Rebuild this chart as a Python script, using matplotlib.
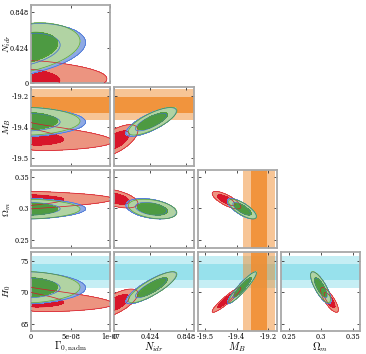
import math
import numpy as np
import matplotlib
matplotlib.use("Agg")
import matplotlib.pyplot as plt

plt.rcParams['mathtext.fontset'] = 'cm'
plt.rcParams['font.family'] = ['DejaVu Serif']

# parameters: Gamma_0,nadm (through u), N_idr, M_B, Omega_m, H0
param_labels = [r'$\Gamma_{0,\mathrm{nadm}}$', r'$N_{idr}$', r'$M_B$', r'$\Omega_m$', r'$H_0$']
axis_limits = [(0.0, 1e-7), (0.0, 0.94), (-19.535, -19.16), (0.237, 0.361), (63.9, 76.3)]
tick_values = [[0.0, 5e-8, 1e-7], [0.0, 0.424, 0.848], [-19.5, -19.35, -19.2],
               [0.25, 0.3, 0.35], [65, 70, 75]]
tick_labels = [['0', '5e-08', '1e-07'], ['0', '0.424', '0.848'], ['-19.5', '-19.4', '-19.2'],
               ['0.25', '0.3', '0.35'], ['65', '70', '75']]
bounded = [0, 1]   # Gamma and N_idr are >= 0

# external priors (mean, sigma)
mb_prior = (-19.244, 0.037)
h0_prior = (73.2, 1.3)

# chains: gaussian in (u, N, M, Om, H), Gamma = scale * u**power
red_mean = [0.0, 0.0, -19.41, 0.3155, 68.4]
red_sigma = [1.0, 0.11, 0.032, 0.0062, 0.95]
red_corr = [[1.0, 0.2, -0.2, 0.05, -0.2],
            [0.2, 1.0, 0.60, -0.50, 0.65],
            [-0.2, 0.60, 1.0, -0.80, 0.95],
            [0.05, -0.50, -0.80, 1.0, -0.82],
            [-0.2, 0.65, 0.95, -0.82, 1.0]]
red_gamma = (0.16e-7, 2.0)

blue_mean = [0.0, 0.41, -19.326, 0.2995, 70.7]
blue_sigma = [1.0, 0.125, 0.028, 0.0066, 1.03]
blue_corr = [[1.0, 0.25, 0.0, 0.0, 0.0],
             [0.25, 1.0, 0.75, -0.35, 0.82],
             [0.0, 0.75, 1.0, -0.75, 0.93],
             [0.0, -0.35, -0.75, 1.0, -0.78],
             [0.0, 0.82, 0.93, -0.78, 1.0]]
blue_gamma = (0.215e-7, 1.3)

green_mean = [0.0, 0.43, -19.322, 0.299, 70.8]
green_sigma = [1.0, 0.12, 0.027, 0.0063, 1.0]
green_corr = [[1.0, 0.25, 0.0, 0.0, 0.0],
              [0.25, 1.0, 0.75, -0.35, 0.82],
              [0.0, 0.75, 1.0, -0.75, 0.93],
              [0.0, -0.35, -0.75, 1.0, -0.78],
              [0.0, 0.82, 0.93, -0.78, 1.0]]
green_gamma = (0.2e-7, 1.26)

chains = [
    (red_mean, red_sigma, red_corr, red_gamma, '#ec9480', '#d8152a', 1.0),
    (blue_mean, blue_sigma, blue_corr, blue_gamma, '#8ea9e4', '#3f6fd6', 1.0),
    (green_mean, green_sigma, green_corr, green_gamma, '#b5d89c', '#4f9f32', 0.9),
]

erf = np.vectorize(math.erf)


def norm_cdf(z):
    return 0.5 * (1.0 + erf(z / math.sqrt(2.0)))


def make_cov(sigma, corr):
    # clip tiny negative eigenvalues so the correlation matrix is usable
    c = np.array(corr, dtype=float)
    w, v = np.linalg.eigh(c)
    c = v @ np.diag(np.clip(w, 1e-3, None)) @ v.T
    d = np.sqrt(np.diag(c))
    c = c / np.outer(d, d)
    sig = np.array(sigma)
    return c * np.outer(sig, sig)


def panel_density(mean, cov, ix, iy, n=220):
    grids = []
    for k in (ix, iy):
        lo = mean[k] - 5 * math.sqrt(cov[k, k])
        hi = mean[k] + 5 * math.sqrt(cov[k, k])
        if k in bounded:
            lo = max(lo, 0.0)
        grids.append(np.linspace(lo, hi, n))
    X, Y = np.meshgrid(grids[0], grids[1])
    idx = [ix, iy]
    inv = np.linalg.inv(cov[np.ix_(idx, idx)])
    dx = X - mean[ix]
    dy = Y - mean[iy]
    q = inv[0, 0] * dx * dx + 2 * inv[0, 1] * dx * dy + inv[1, 1] * dy * dy
    dens = np.exp(-0.5 * q)
    for k in bounded:
        if k in idx:
            continue
        w = cov[k, idx] @ inv
        mu = mean[k] + w[0] * dx + w[1] * dy
        sd = math.sqrt(max(cov[k, k] - w @ cov[idx, k], 1e-12))
        dens = dens * norm_cdf(mu / sd)
    return X, Y, dens


def levels_for(dens):
    flat = np.sort(dens.ravel())[::-1]
    cum = np.cumsum(flat)
    cum /= cum[-1]
    l95 = flat[np.searchsorted(cum, 0.95)]
    l68 = flat[np.searchsorted(cum, 0.68)]
    return [l95, l68, dens.max() * 1.01]


fig = plt.figure(figsize=(3.66, 3.54), dpi=100)
gs = fig.add_gridspec(4, 4, left=0.085, right=0.984, bottom=0.065, top=0.987,
                      wspace=0.05, hspace=0.05)

for r in range(4):
    py = r + 1
    for c in range(r + 1):
        px = c
        ax = fig.add_subplot(gs[r, c])

        # external prior bands
        if py == 4:
            m, s = h0_prior
            ax.axhspan(m - 2 * s, m + 2 * s, color='#7fdbe8', alpha=0.45, lw=0, zorder=0)
            ax.axhspan(m - s, m + s, color='#7fdbe8', alpha=0.65, lw=0, zorder=0)
        if py == 2:
            m, s = mb_prior
            ax.axhspan(m - 2 * s, m + 2 * s, color='#f08c2e', alpha=0.5, lw=0, zorder=0)
            ax.axhspan(m - s, m + s, color='#f08c2e', alpha=0.85, lw=0, zorder=0)
        if px == 2:
            m, s = mb_prior
            ax.axvspan(m - 2 * s, m + 2 * s, color='#f08c2e', alpha=0.5, lw=0, zorder=0)
            ax.axvspan(m - s, m + s, color='#f08c2e', alpha=0.85, lw=0, zorder=0)

        for mean, sigma, corr, gam, light, dark, alpha in chains:
            cov = make_cov(sigma, corr)
            X, Y, dens = panel_density(np.array(mean), cov, px, py)
            if px == 0:
                X = gam[0] * X ** gam[1]
            lev = levels_for(dens)
            ax.contourf(X, Y, dens, levels=lev, colors=[light, dark], alpha=alpha, zorder=2)
            ax.contour(X, Y, dens, levels=lev[:2], colors=[dark], linewidths=0.5,
                       alpha=alpha, zorder=3)

        ax.set_xlim(axis_limits[px])
        ax.set_ylim(axis_limits[py])
        ax.set_xticks(tick_values[px])
        ax.set_yticks(tick_values[py])
        ax.tick_params(direction='in', top=True, right=True, length=2.5, width=0.6,
                       color='#333333', labelsize=4.8, pad=1.5)
        for sp in ax.spines.values():
            sp.set_color('#a8a8a8')
            sp.set_linewidth(1.3)
        if r == 3:
            ax.set_xticklabels(tick_labels[px])
            ax.set_xlabel(param_labels[px], fontsize=7.5)
            ax.xaxis.set_label_coords(0.5, -0.115)
        else:
            ax.set_xticklabels([])
        if c == 0:
            ax.set_yticklabels(tick_labels[py])
            ax.set_ylabel(param_labels[py], fontsize=7)
            ax.yaxis.set_label_coords(-0.232, 0.5)
        else:
            ax.set_yticklabels([])

fig.savefig('out.png', dpi=100)
